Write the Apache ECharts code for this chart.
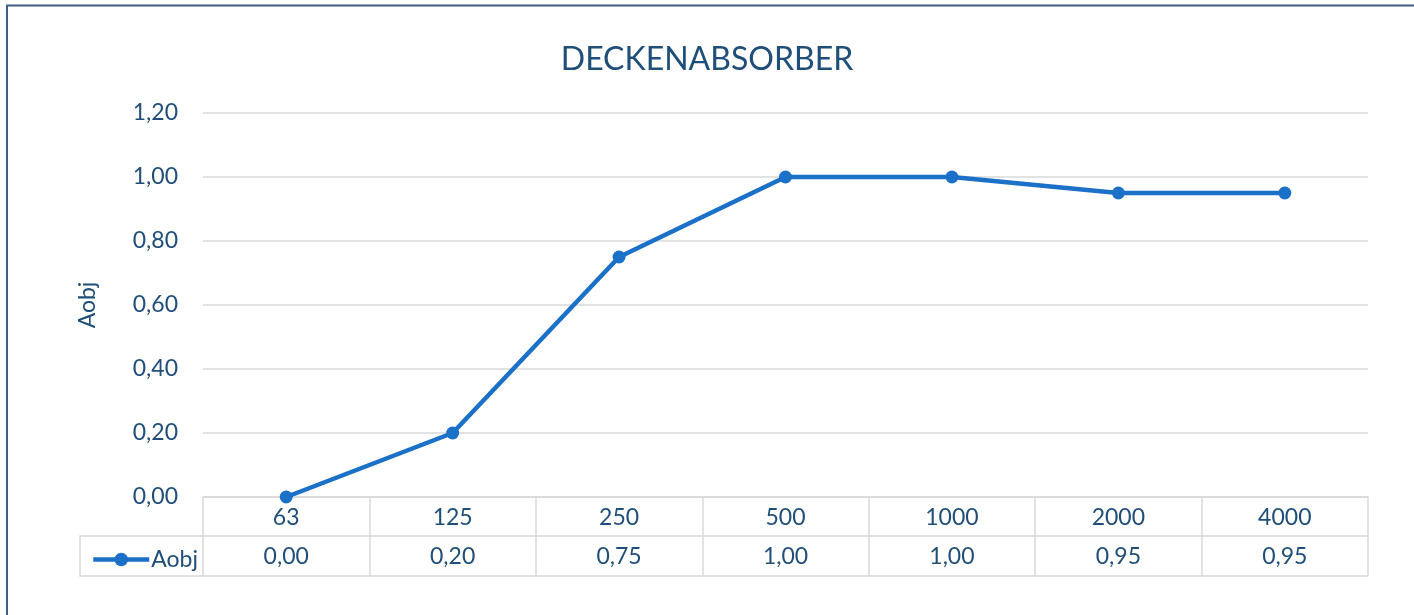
<!DOCTYPE html>
<html>
<head>
<meta charset="utf-8">
<script src="https://cdn.jsdelivr.net/npm/echarts@6/dist/echarts.min.js"></script>
<style>
  html, body { margin: 0; padding: 0; background: #fff; }
  #chart { width: 1414px; height: 615px; }
</style>
</head>
<body>
<div id="chart"></div>
<script>
;(function () {
  'use strict'

  var categories = ['63', '125', '250', '500', '1000', '2000', '4000']
  var aobj = [0.00, 0.20, 0.75, 1.00, 1.00, 0.95, 0.95]
  var seriesName = 'Aobj'

  var TEXT = '#1f4e79'
  var LINE = '#1b70c8'
  var GRID = '#d9d9d9'
  var FONT = 'Lato, "Open Sans", sans-serif'

  function fmt(v) { return v.toFixed(2).replace('.', ',') }

  var chart = echarts.init(document.getElementById('chart'))

  chart.setOption({
    animation: false,
    textStyle: { fontFamily: FONT, color: TEXT },
    title: {
      text: 'DECKENABSORBER',
      left: 'center',
      top: 39,
      textStyle: { fontFamily: FONT, fontSize: 32, fontWeight: 'normal', color: TEXT }
    },
    legend: {
      left: 86,
      top: 543,
      itemWidth: 56,
      itemHeight: 17,
      itemGap: 5,
      lineStyle: { width: 4.5 },
      textStyle: { fontFamily: FONT, fontSize: 23, color: TEXT, padding: [0, 0, 0, -3] },
      data: [seriesName]
    },
    grid: { left: 203, right: 46, top: 113, bottom: 118, containLabel: false },
    xAxis: [
      {
        type: 'category',
        data: categories,
        position: 'bottom',
        axisLine: { lineStyle: { color: GRID, width: 1.5 } },
        axisTick: { show: true, length: 79, lineStyle: { color: GRID, width: 1.5 } },
        axisLabel: { fontSize: 23, color: TEXT, margin: 9, fontFamily: FONT }
      },
      {
        type: 'category',
        data: aobj.map(fmt),
        position: 'bottom',
        offset: 39,
        axisLine: { lineStyle: { color: GRID, width: 1.5 } },
        axisTick: { show: false },
        axisLabel: { fontSize: 23, color: TEXT, margin: 9, fontFamily: FONT }
      },
      {
        type: 'category',
        data: categories,
        position: 'bottom',
        offset: 79,
        axisLine: { lineStyle: { color: GRID, width: 1.5 } },
        axisTick: { show: false },
        axisLabel: { show: false }
      }
    ],
    yAxis: {
      type: 'value',
      min: 0,
      max: 1.2,
      interval: 0.2,
      name: seriesName,
      nameLocation: 'middle',
      nameGap: 104,
      nameTextStyle: { fontSize: 23, color: TEXT, fontFamily: FONT },
      axisLine: { show: false },
      axisTick: { show: false },
      axisLabel: { fontSize: 23, color: TEXT, margin: 25, fontFamily: FONT, formatter: fmt },
      splitLine: { lineStyle: { color: GRID, width: 1.5 } }
    },
    graphic: [
      {
        type: 'polyline',
        silent: true,
        shape: { points: [[7, 615], [7, 5.5], [1414, 5.5]] },
        style: { stroke: '#3f5f82', lineWidth: 2, fill: null }
      },
      {
        type: 'polyline',
        silent: true,
        shape: { points: [[203, 536], [80, 536], [80, 576], [203, 576]] },
        style: { stroke: GRID, lineWidth: 1.5, fill: null }
      }
    ],
    series: [{
      name: seriesName,
      type: 'line',
      data: aobj,
      symbol: 'circle',
      symbolSize: 13,
      itemStyle: { color: LINE },
      lineStyle: { color: LINE, width: 4.5 }
    }]
  })
})()
</script>
</body>
</html>
